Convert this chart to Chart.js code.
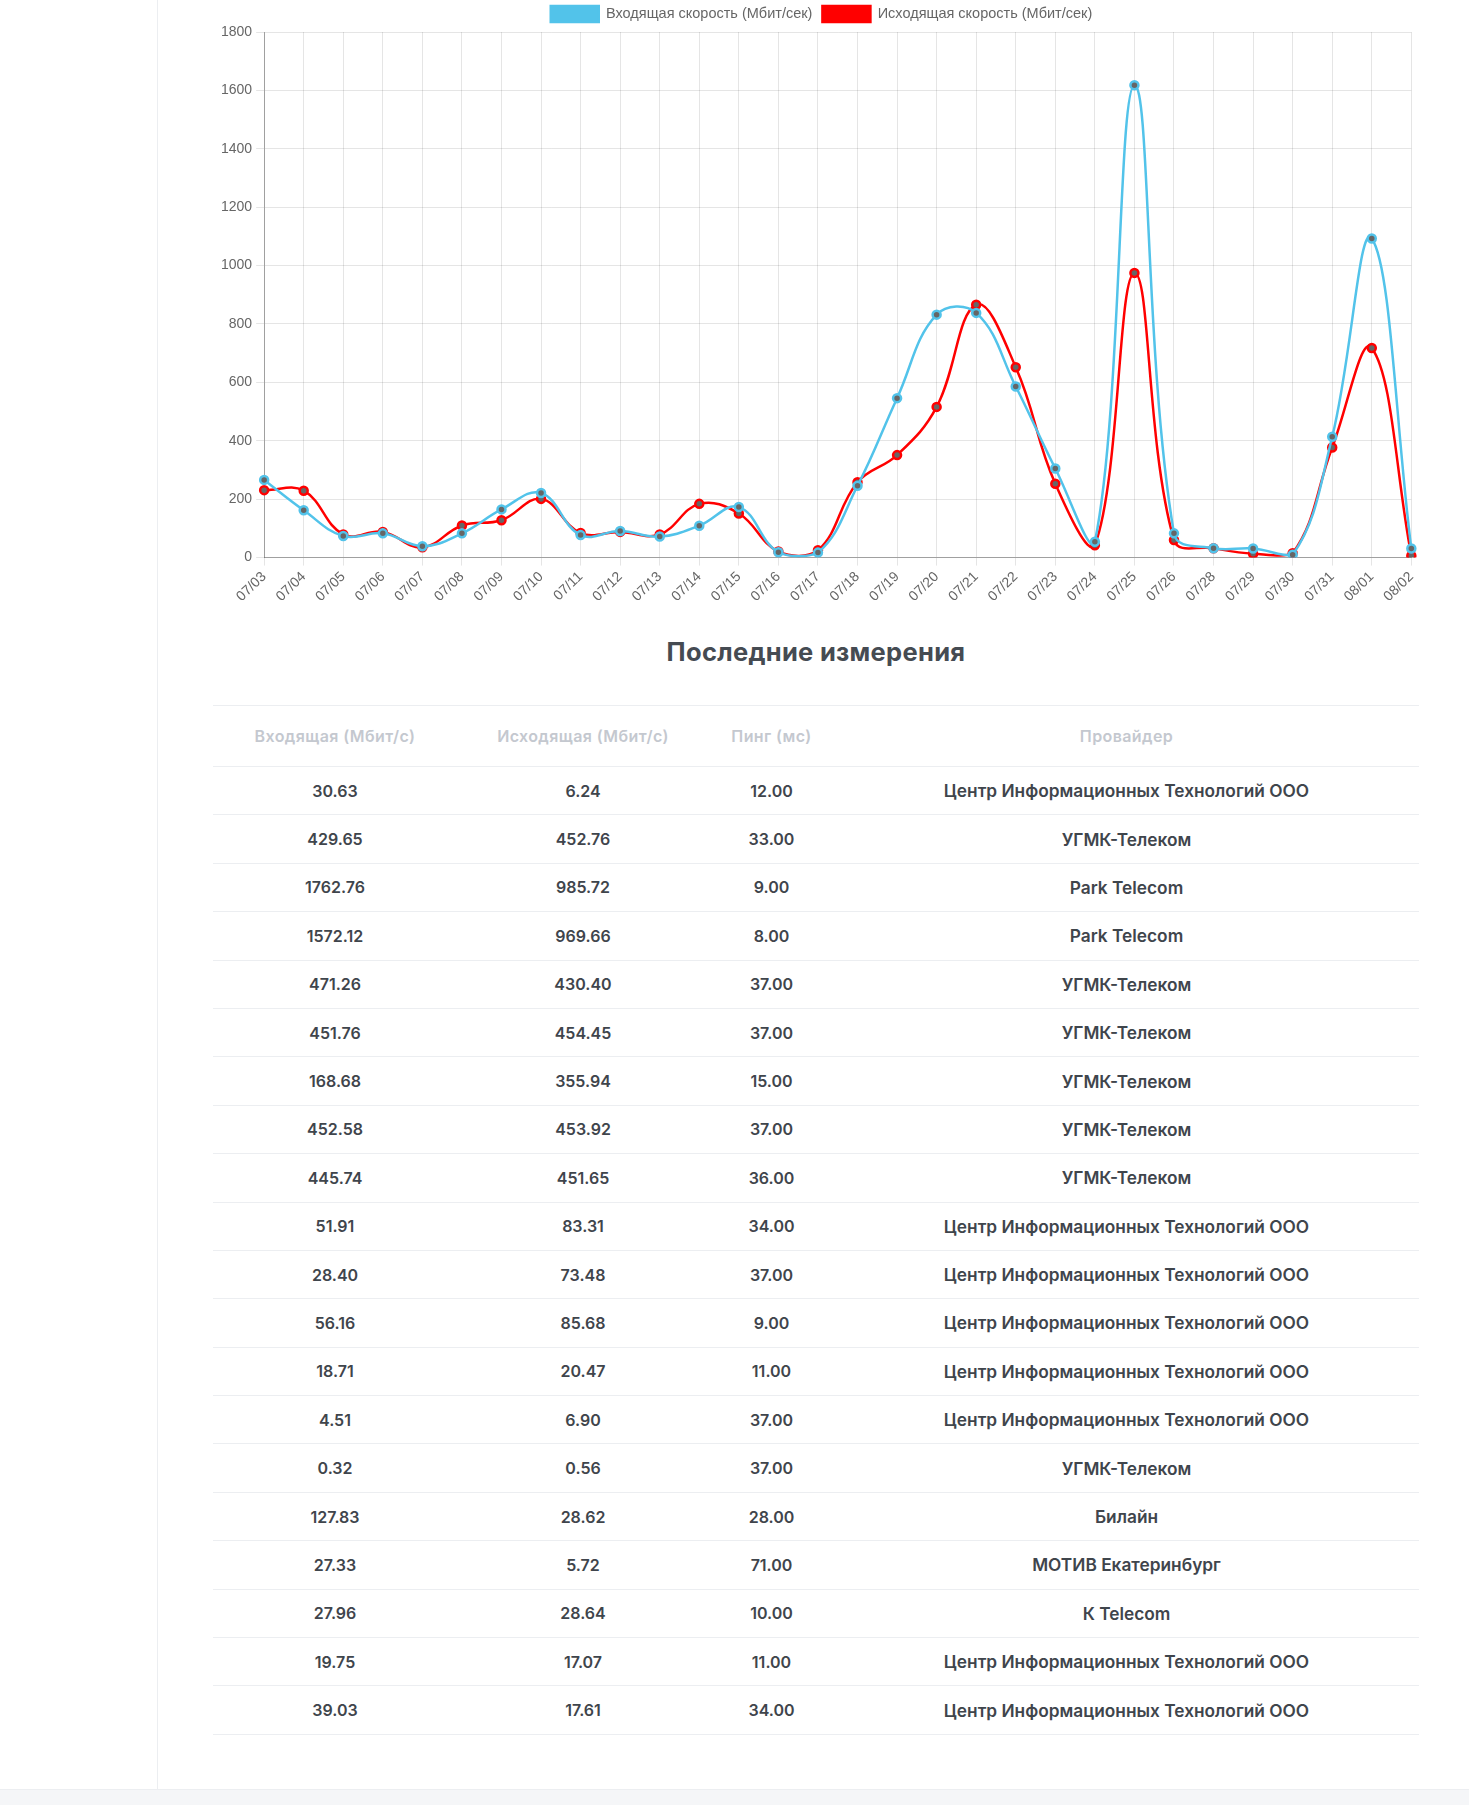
<!DOCTYPE html>
<html>
<head>
<meta charset="utf-8">
<script src="https://cdn.jsdelivr.net/npm/chart.js@4"></script>
<style>
  body { margin: 0; background: #fff; font-family: Inter, "Noto Sans", sans-serif; }
  .sidebar-line { position: absolute; left: 157px; top: 0; width: 1px; height: 1789px; background: #eceef1; }
  .footer-band { position: absolute; left: 0; top: 1789px; width: 1469px; height: 16px; background: #f5f6f8; border-top: 1px solid #eceef1; }
  .content { position: absolute; left: 213px; top: 0; width: 1206px; }
  .chart-box { position: relative; width: 1209px; height: 612px; margin-top: -4px; margin-left: 4px; }
  h3 { margin: 0; position: absolute; top: 636px; width: 100%; text-align: center; font-size: 25.5px; font-weight: 700; color: #454b52; letter-spacing: 0.3px; }
  table { position: absolute; top: 705px; width: 1206px; border-collapse: collapse; table-layout: fixed; }
  th, td { text-align: center; border-top: 1px solid #eceef1; padding: 0; }
  th { height: 60px; color: #c4c8cf; font-weight: 600; font-size: 16px; letter-spacing: 0.4px; }
  td { height: 47.4px; color: #3f454c; font-weight: 600; font-size: 16px; }
  td.prov { font-size: 17.3px; }
  tr:last-child td { border-bottom: 1px solid #eceef1; }
</style>
</head>
<body>
<div class="sidebar-line"></div>
<div class="footer-band"></div>
<div class="content">
  <div class="chart-box"><canvas id="speedChart"></canvas></div>
  <h3>Последние измерения</h3>
  <table id="lastTable"></table>
</div>
<script>
const days = ["07/03", "07/04", "07/05", "07/06", "07/07", "07/08", "07/09", "07/10", "07/11", "07/12",
  "07/13", "07/14", "07/15", "07/16", "07/17", "07/18", "07/19", "07/20", "07/21", "07/22",
  "07/23", "07/24", "07/25", "07/26", "07/28", "07/29", "07/30", "07/31", "08/01", "08/02"];
const download = [266, 162, 74, 83, 39, 83, 165, 221, 77, 91,
  72, 109, 173, 18, 17, 246, 546, 832, 838, 586,
  305, 54, 1618, 83, 32, 31, 10, 414, 1093, 31];
const upload = [231, 229, 79, 88, 35, 110, 128, 201, 84, 88,
  79, 184, 151, 21, 25, 258, 351, 516, 866, 652,
  253, 42, 975, 60, 32, 13, 15, 377, 718, 6];
const yTicks = [0, 200, 400, 600, 800, 1000, 1200, 1400, 1600, 1800];

// last measurements table
const tableHeaders = ["Входящая (Мбит/с)", "Исходящая (Мбит/с)", "Пинг (мс)", "Провайдер"];
const lastDownload = ["30.63", "429.65", "1762.76", "1572.12", "471.26", "451.76", "168.68", "452.58", "445.74", "51.91",
  "28.40", "56.16", "18.71", "4.51", "0.32", "127.83", "27.33", "27.96", "19.75", "39.03"];
const lastUpload = ["6.24", "452.76", "985.72", "969.66", "430.40", "454.45", "355.94", "453.92", "451.65", "83.31",
  "73.48", "85.68", "20.47", "6.90", "0.56", "28.62", "5.72", "28.64", "17.07", "17.61"];
const lastPing = ["12.00", "33.00", "9.00", "8.00", "37.00", "37.00", "15.00", "37.00", "36.00", "34.00",
  "37.00", "9.00", "11.00", "37.00", "37.00", "28.00", "71.00", "10.00", "11.00", "34.00"];
const CIT = "Центр Информационных Технологий ООО";
const UGMK = "УГМК-Телеком";
const lastProvider = [CIT, UGMK, "Park Telecom", "Park Telecom", UGMK, UGMK, UGMK, UGMK, UGMK, CIT,
  CIT, CIT, CIT, CIT, UGMK, "Билайн", "МОТИВ Екатеринбург", "К Telecom", CIT, CIT];

const colWidths = [244, 252, 125, 585];
let html = "<colgroup>" + colWidths.map(w => '<col style="width:' + w + 'px">').join("") + "</colgroup>";
html += "<tr>" + tableHeaders.map(h => "<th>" + h + "</th>").join("") + "</tr>";
for (let i = 0; i < lastDownload.length; i++) {
  html += "<tr><td>" + lastDownload[i] + "</td><td>" + lastUpload[i] + "</td><td>" + lastPing[i] +
    '</td><td class="prov">' + lastProvider[i] + "</td></tr>";
}
document.getElementById("lastTable").innerHTML = html;

const blue = "#52c3ea";
const red = "#ff0000";

const ctx = document.getElementById("speedChart").getContext("2d");
new Chart(ctx, {
  type: "line",
  data: {
    labels: days,
    datasets: [
      {
        label: "Входящая скорость (Мбит/сек)",
        data: download,
        borderColor: blue,
        backgroundColor: blue,
        borderWidth: 2.5,
        tension: 0.4,
        fill: false,
        pointRadius: 4,
        pointBorderWidth: 2.5,
        pointBackgroundColor: "#666",
        pointBorderColor: blue,
      },
      {
        label: "Исходящая скорость (Мбит/сек)",
        data: upload,
        borderColor: red,
        backgroundColor: red,
        borderWidth: 2.5,
        tension: 0.4,
        fill: false,
        pointRadius: 4,
        pointBorderWidth: 2.5,
        pointBackgroundColor: "#666",
        pointBorderColor: red,
      },
    ],
  },
  options: {
    responsive: true,
    maintainAspectRatio: false,
    animation: false,
    layout: { padding: { left: 0, right: 0, top: 0, bottom: 0 } },
    plugins: {
      legend: {
        position: "top",
        labels: {
          boxWidth: 48,
          boxHeight: 16,
          padding: 10,
          color: "#666",
          font: { size: 14.5 },
        },
      },
      tooltip: { enabled: false },
    },
    scales: {
      x: {
        grid: { color: "rgba(0,0,0,0.1)", offset: false },
        border: { color: "rgba(0,0,0,0.3)" },
        ticks: {
          autoSkip: false,
          minRotation: 44,
          maxRotation: 44,
          color: "#666",
          font: { size: 14 },
        },
      },
      y: {
        min: 0,
        max: 1800,
        afterBuildTicks: axis => { axis.ticks = yTicks.map(v => ({ value: v })); },
        grid: { color: "rgba(0,0,0,0.1)" },
        border: { color: "rgba(0,0,0,0.3)" },
        ticks: { color: "#666", font: { size: 14 }, padding: 4, callback: v => String(v) },
      },
    },
  },
});
</script>
</body>
</html>
